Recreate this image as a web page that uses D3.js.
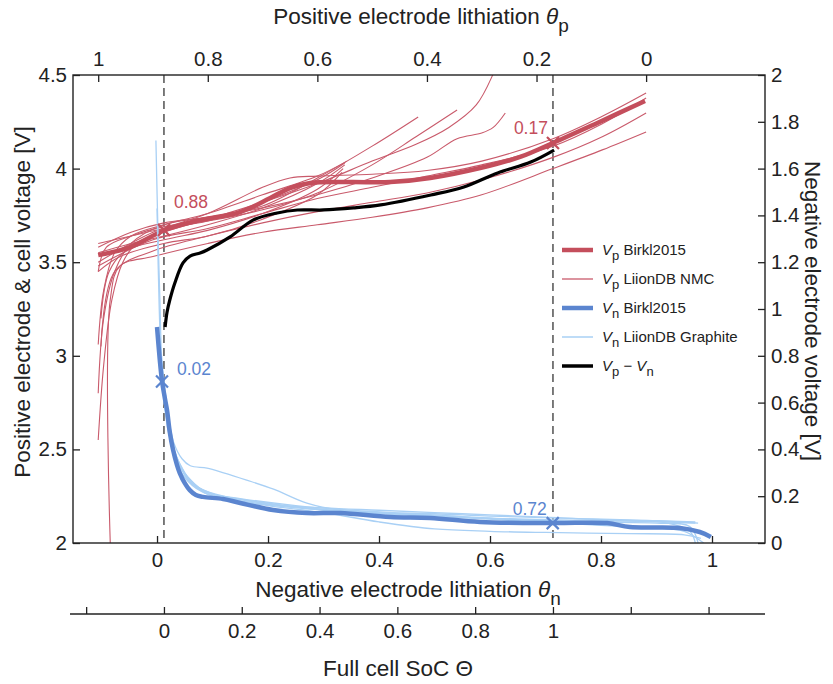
<!DOCTYPE html>
<html><head><meta charset="utf-8">
<script src="https://cdn.jsdelivr.net/npm/d3@7"></script>
<style>
body{margin:0;background:#fff;}
svg text{font-family:"Liberation Sans",Arial,Helvetica,sans-serif;fill:#222;}
</style></head>
<body><svg id="c" width="833" height="684"></svg>
<script>
// ---------------- DATA ----------------
const thetaPTicks = [1, 0.8, 0.6, 0.4, 0.2, 0];
const thetaNTicks = [0, 0.2, 0.4, 0.6, 0.8, 1];
const vLeftTicks = [2, 2.5, 3, 3.5, 4, 4.5];
const vRightTicks = [0, 0.2, 0.4, 0.6, 0.8, 1, 1.2, 1.4, 1.6, 1.8, 2];
const socTicks = [-0.2, 0, 0.2, 0.4, 0.6, 0.8, 1, 1.2, 1.4];
const socLabelled = [0, 0.2, 0.4, 0.6, 0.8, 1];

// Vp Birkl2015: [theta_p, V]
const vpBirkl = [[1.0,3.538],[0.942,3.581],[0.878,3.672],[0.814,3.725],[0.741,3.768],[0.686,3.843],[0.650,3.896],[0.613,3.923],[0.540,3.928],[0.467,3.928],[0.394,3.950],[0.303,4.003],[0.230,4.062],[0.170,4.137],[0.089,4.244],[0.002,4.361]];

// Vp LiionDB NMC: thin curves [theta_p, V]
const vpLiion = [
 [[1.0,2.55],[0.99,2.95],[0.975,3.3],[0.955,3.5],[0.93,3.6],[0.88,3.66],[0.8,3.73],[0.7,3.82],[0.6,3.92],[0.5,4.04],[0.42,4.13],[0.36,4.22],[0.31,4.34],[0.28,4.5],[0.27,4.58]],
 [[1.0,2.8],[0.99,3.2],[0.97,3.45],[0.94,3.6],[0.88,3.7],[0.8,3.74],[0.7,3.80],[0.6,3.95],[0.5,4.12],[0.416,4.276]],
 [[1.0,3.45],[0.985,3.58],[0.94,3.64],[0.88,3.69],[0.8,3.72],[0.7,3.78],[0.6,3.87],[0.5,4.02],[0.42,4.17],[0.345,4.313]],
 [[1.0,3.58],[0.94,3.66],[0.88,3.71],[0.8,3.74],[0.7,3.79],[0.6,3.86],[0.5,3.95],[0.4,4.06],[0.345,4.16],[0.3,4.19],[0.279,4.22],[0.257,4.297]],
 [[1.0,3.06],[0.99,3.35],[0.97,3.55],[0.94,3.64],[0.88,3.70],[0.8,3.76],[0.7,3.86],[0.6,3.96],[0.546,4.04]],
 [[1.0,3.6],[0.94,3.64],[0.88,3.68],[0.8,3.72],[0.7,3.82],[0.6,3.94],[0.55,4.03]],
 [[1.0,3.55],[0.94,3.6],[0.88,3.64],[0.8,3.70],[0.7,3.79],[0.6,3.92],[0.55,4.02]],
 [[0.995,3.2],[0.98,3.45],[0.95,3.56],[0.88,3.62],[0.8,3.67],[0.7,3.76],[0.6,3.89],[0.553,4.0]],
 [[1.0,3.45],[0.96,3.53],[0.88,3.60],[0.8,3.64],[0.7,3.73],[0.6,3.86],[0.555,3.98]],
 [[1.0,3.5],[0.9,3.66],[0.8,3.76],[0.7,3.90],[0.65,3.95],[0.6,3.96],[0.5,3.97],[0.4,3.99],[0.3,4.04],[0.17,4.16],[0.08,4.28],[0,4.404]],
 [[1.0,3.48],[0.9,3.62],[0.8,3.68],[0.7,3.76],[0.6,3.84],[0.5,3.90],[0.4,3.96],[0.3,4.02],[0.17,4.12],[0.08,4.24],[0,4.377]],
 [[0.995,3.05],[0.97,3.45],[0.9,3.56],[0.8,3.64],[0.7,3.71],[0.6,3.77],[0.5,3.82],[0.4,3.87],[0.3,3.94],[0.17,4.06],[0.08,4.17],[0,4.297]],
 [[0.978,2.0],[0.978,3.3],[0.96,3.48],[0.9,3.53],[0.8,3.60],[0.7,3.66],[0.6,3.70],[0.5,3.74],[0.4,3.79],[0.3,3.86],[0.17,4.0],[0.08,4.10],[0,4.196]]
];

// Vn Birkl2015: [theta_n, V]
const vnBirkl = [[0.000,0.923],[0.005,0.782],[0.009,0.692],[0.014,0.620],[0.018,0.568],[0.023,0.474],[0.029,0.397],[0.036,0.333],[0.041,0.299],[0.050,0.256],[0.059,0.226],[0.070,0.205],[0.083,0.197],[0.119,0.188],[0.150,0.171],[0.209,0.141],[0.270,0.128],[0.330,0.128],[0.420,0.111],[0.492,0.107],[0.582,0.090],[0.714,0.085],[0.811,0.085],[0.852,0.068],[0.942,0.064],[0.978,0.047],[0.998,0.026]];

// Vn LiionDB Graphite: thin curves [theta_n, V]
const vnLiion = [
 [[-0.002,1.72],[0.002,1.3],[0.005,1.05],[0.008,0.8],[0.012,0.65],[0.017,0.55],[0.022,0.47],[0.03,0.39],[0.045,0.31],[0.06,0.26],[0.1,0.21],[0.15,0.18],[0.25,0.15],[0.4,0.13],[0.55,0.11],[0.7,0.1],[0.85,0.095],[0.97,0.085]],
 [[0.0,1.43],[0.004,1.0],[0.008,0.75],[0.013,0.6],[0.02,0.48],[0.03,0.39],[0.04,0.33],[0.06,0.27],[0.08,0.23],[0.12,0.20],[0.2,0.17],[0.3,0.14],[0.45,0.12],[0.6,0.105],[0.75,0.09],[0.9,0.085],[0.96,0.07],[0.975,0.0]],
 [[0.01,0.75],[0.02,0.55],[0.03,0.43],[0.045,0.36],[0.06,0.33],[0.09,0.32],[0.12,0.30],[0.16,0.27],[0.21,0.23],[0.27,0.17],[0.33,0.14],[0.4,0.13],[0.5,0.125],[0.6,0.115],[0.75,0.105],[0.9,0.095],[0.975,0.085]],
 [[0.008,0.8],[0.015,0.6],[0.025,0.44],[0.04,0.34],[0.06,0.27],[0.09,0.215],[0.15,0.19],[0.25,0.16],[0.35,0.14],[0.5,0.12],[0.65,0.10],[0.8,0.09],[0.92,0.085],[0.96,0.05],[0.97,0.0]],
 [[0.006,0.85],[0.012,0.62],[0.02,0.5],[0.03,0.4],[0.05,0.3],[0.07,0.24],[0.1,0.2],[0.2,0.165],[0.3,0.15],[0.4,0.14],[0.5,0.13],[0.6,0.12],[0.7,0.11],[0.8,0.1],[0.9,0.095],[0.97,0.09]],
 [[0.01,0.7],[0.02,0.5],[0.03,0.38],[0.05,0.28],[0.08,0.22],[0.12,0.19],[0.2,0.16],[0.3,0.13],[0.4,0.09],[0.5,0.06],[0.6,0.05],[0.7,0.045],[0.85,0.04],[0.95,0.035],[0.98,0.02]],
 [[0.012,0.65],[0.02,0.5],[0.035,0.37],[0.06,0.26],[0.09,0.215],[0.15,0.185],[0.25,0.155],[0.35,0.135],[0.5,0.115],[0.65,0.095],[0.8,0.075],[0.9,0.065],[0.95,0.05],[0.985,0.0]]
];

// Vp - Vn: [full cell SoC, V]
const cell = [[0.003,3.154],[0.008,3.234],[0.015,3.298],[0.028,3.389],[0.049,3.496],[0.067,3.533],[0.093,3.549],[0.111,3.565],[0.170,3.635],[0.229,3.725],[0.291,3.763],[0.343,3.779],[0.410,3.779],[0.487,3.790],[0.557,3.806],[0.686,3.859],[0.771,3.902],[0.858,3.977],[0.943,4.035],[1.003,4.099]];

// stoichiometry markers
const pMarks = [{t:0.88, v:3.672, label:"0.88"}, {t:0.17, v:4.137, label:"0.17"}];
const nMarks = [{t:0.009, v:0.69, label:"0.02"}, {t:0.713, v:0.085, label:"0.72"}];

const legendItems = [
 {sym:"V", sub:"p", text:" Birkl2015", color:"#c44e5c", w:4.5},
 {sym:"V", sub:"p", text:" LiionDB NMC", color:"#c95a6b", w:1.3},
 {sym:"V", sub:"n", text:" Birkl2015", color:"#5b85cf", w:4.5},
 {sym:"V", sub:"n", text:" LiionDB Graphite", color:"#a9d0f5", w:1.5},
 {sym:"diff", color:"#000", w:3.5}
];

// ---------------- LAYOUT ----------------
const L = 73, R = 765, T = 75, B = 543;
const svg = d3.select("#c");

const xN = d3.scaleLinear().domain([-0.1514, 1.0955]).range([L, R]);
const xP = d3.scaleLinear().domain([1.046, -0.217]).range([L, R]);
const yL = d3.scaleLinear().domain([2, 4.5]).range([B, T]);
const yR = d3.scaleLinear().domain([0, 2]).range([B, T]);
const xS = d3.scaleLinear().domain([0, 1]).range([xP(0.88), xP(0.17)]);
const socDom = [xS.invert(L), xS.invert(R)];
xS.domain(socDom).range([L, R]);

const red = "#c44e5c", redThin = "#c95a6b", blue = "#5b85cf", blueThin = "#a9d0f5";

svg.append("defs").append("clipPath").attr("id","clip")
  .append("rect").attr("x",L).attr("y",T).attr("width",R-L).attr("height",B-T);

const plot = svg.append("g").attr("clip-path","url(#clip)");

// dashed lines
[0.88, 0.17].forEach(t => {
  plot.append("line").attr("x1",xP(t)).attr("x2",xP(t)).attr("y1",T).attr("y2",B)
    .attr("stroke","#444").attr("stroke-width",1.4).attr("stroke-dasharray","8,5");
});

const lineP2 = d3.line().x(d=>xP(d[0])).y(d=>yL(d[1])).curve(d3.curveCatmullRom.alpha(0.5));
const lineN = d3.line().x(d=>xN(d[0])).y(d=>yR(d[1])).curve(d3.curveCatmullRom.alpha(0.5));
const lineS = d3.line().x(d=>xS(d[0])).y(d=>yL(d[1])).curve(d3.curveCatmullRom.alpha(0.5));

vpLiion.forEach(s => plot.append("path").attr("d", lineP2(s)).attr("fill","none")
  .attr("stroke", redThin).attr("stroke-width",1.1));
plot.append("path").attr("d", lineP2(vpBirkl)).attr("fill","none")
  .attr("stroke", red).attr("stroke-width",4.5).attr("stroke-linejoin","round");

vnLiion.forEach(s => plot.append("path").attr("d", lineN(s)).attr("fill","none")
  .attr("stroke", blueThin).attr("stroke-width",1.3));
plot.append("path").attr("d", lineN(vnBirkl)).attr("fill","none")
  .attr("stroke", blue).attr("stroke-width",4.5).attr("stroke-linejoin","round");

plot.append("path").attr("d", lineS(cell)).attr("fill","none")
  .attr("stroke", "#000").attr("stroke-width",3.2).attr("stroke-linejoin","round");

// cross markers
function cross(g, x, y, color){
  const s = 6;
  g.append("path").attr("d",`M${x-s},${y-s}L${x+s},${y+s}M${x-s},${y+s}L${x+s},${y-s}`)
    .attr("stroke",color).attr("stroke-width",2.2).attr("fill","none");
}
pMarks.forEach(m => cross(svg, xP(m.t), yL(m.v), red));
nMarks.forEach(m => cross(svg, xN(m.t), yR(m.v), blue));

const annFont = 17.5;
svg.append("text").attr("x", xP(pMarks[0].t)+10).attr("y", yL(pMarks[0].v)-22)
  .text(pMarks[0].label).style("fill",red).attr("font-size",annFont);
svg.append("text").attr("x", xP(pMarks[1].t)-5).attr("y", yL(pMarks[1].v)-9)
  .attr("text-anchor","end").text(pMarks[1].label).style("fill",red).attr("font-size",annFont);
svg.append("text").attr("x", xN(nMarks[0].t)+15).attr("y", yR(nMarks[0].v)-7)
  .text(nMarks[0].label).style("fill",blue).attr("font-size",annFont);
svg.append("text").attr("x", xN(nMarks[1].t)-6).attr("y", yR(nMarks[1].v)-8)
  .attr("text-anchor","end").text(nMarks[1].label).style("fill",blue).attr("font-size",annFont);

// ---------------- AXES ----------------
const fmt = d3.format("~g");
const tickFont = 20.5;
function styleAxis(g){
  g.selectAll(".domain").remove();
  g.selectAll(".tick line").attr("stroke","#222").attr("stroke-width",1.3);
  g.selectAll(".tick text").attr("font-size",tickFont).style("fill","#222")
    .attr("font-family","Liberation Sans, Arial, sans-serif");
}
const ax1 = svg.append("g").attr("transform",`translate(0,${B})`)
  .call(d3.axisBottom(xN).tickValues(thetaNTicks).tickFormat(fmt).tickSizeInner(-7).tickSizeOuter(0).tickPadding(9));
styleAxis(ax1);
const ax2 = svg.append("g").attr("transform",`translate(0,${T})`)
  .call(d3.axisTop(xP).tickValues(thetaPTicks).tickFormat(fmt).tickSizeInner(-7).tickSizeOuter(0).tickPadding(9));
styleAxis(ax2);
const ax3 = svg.append("g").attr("transform",`translate(${L},0)`)
  .call(d3.axisLeft(yL).tickValues(vLeftTicks).tickFormat(fmt).tickSizeInner(-7).tickSizeOuter(0).tickPadding(6));
styleAxis(ax3);
const ax4 = svg.append("g").attr("transform",`translate(${R},0)`)
  .call(d3.axisRight(yR).tickValues(vRightTicks).tickFormat(fmt).tickSizeInner(-7).tickSizeOuter(0).tickPadding(6));
styleAxis(ax4);

// box
svg.append("rect").attr("x",L).attr("y",T).attr("width",R-L).attr("height",B-T)
  .attr("fill","none").attr("stroke","#222").attr("stroke-width",1.4);

// SoC axis
const SY = 614;
const ax5 = svg.append("g").attr("transform",`translate(0,${SY})`)
  .call(d3.axisBottom(xS).tickValues(socTicks).tickFormat(d => socLabelled.includes(d) ? fmt(d) : "")
    .tickSizeInner(-7).tickSizeOuter(0).tickPadding(9));
styleAxis(ax5);
svg.append("line").attr("x1",L-3).attr("x2",R).attr("y1",SY).attr("y2",SY)
  .attr("stroke","#222").attr("stroke-width",1.4);

// ---------------- TITLES ----------------
const titleFont = 22.5;
function title(x, y, parts, rot){
  const t = svg.append("text").attr("font-size",titleFont).attr("text-anchor","middle")
    .attr("transform", `translate(${x},${y})` + (rot ? ` rotate(${rot})` : ""));
  parts.forEach(p => {
    const s = t.append("tspan").text(p.t);
    if (p.it) s.attr("font-style","italic");
    if (p.dy) s.attr("dy", p.dy);
    if (p.fs) s.attr("font-size", p.fs);
  });
  return t;
}
title(421, 24, [{t:"Positive electrode lithiation "},{t:"θ",it:true},{t:"p",dy:8,fs:19}]);
title(408, 597, [{t:"Negative electrode lithiation "},{t:"θ",it:true},{t:"n",dy:8,fs:19}]);
title(398, 676, [{t:"Full cell SoC Θ"}]);
title(30, 302, [{t:"Positive electrode & cell voltage [V]"}], -90);
title(805, 311, [{t:"Negative electrode voltage [V]"}], 90);

// ---------------- LEGEND ----------------
const lg = svg.append("g");
const ly0 = 250, lstep = 29;
legendItems.forEach((it, i) => {
  const y = ly0 + i*lstep;
  lg.append("line").attr("x1",562).attr("x2",593).attr("y1",y).attr("y2",y)
    .attr("stroke",it.color).attr("stroke-width",it.w);
  const t = lg.append("text").attr("x",602).attr("y",y+5).attr("font-size",15);
  if (it.sym === "diff") {
    t.append("tspan").text("V").attr("font-style","italic");
    t.append("tspan").text("p").attr("dy",5).attr("font-size",13);
    t.append("tspan").text(" − ").attr("dy",-5);
    t.append("tspan").text("V").attr("font-style","italic");
    t.append("tspan").text("n").attr("dy",5).attr("font-size",13);
  } else {
    t.append("tspan").text(it.sym).attr("font-style","italic");
    t.append("tspan").text(it.sub).attr("dy",5).attr("font-size",13);
    t.append("tspan").text(it.text).attr("dy",-5);
  }
});
</script></body></html>
